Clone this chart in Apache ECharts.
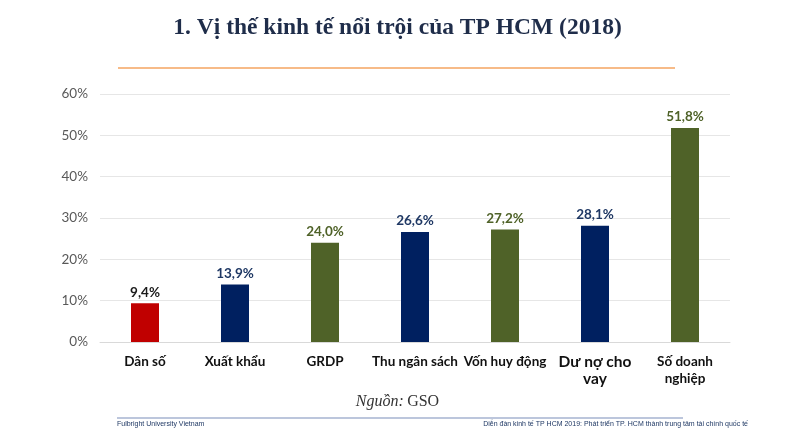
<!DOCTYPE html>
<html><head><meta charset="utf-8">
<script src="https://cdn.jsdelivr.net/npm/echarts@6/dist/echarts.min.js"></script>
<style>html,body{margin:0;padding:0;background:#fff}#c{width:795px;height:435px}</style>
</head><body><div id="c"></div>
<script>
const categories = ['Dân số', 'Xuất khẩu', 'GRDP', 'Thu ngân sách', 'Vốn huy động', 'Dư nợ cho\nvay', 'Số doanh\nnghiệp'];
const values = [9.4, 13.9, 24.0, 26.6, 27.2, 28.1, 51.8];
const barColors = ['#c00000', '#002060', '#4f6228', '#002060', '#4f6228', '#002060', '#4f6228'];
const labelColors = ['#1a1a1a', '#1f3864', '#4f6228', '#1f3864', '#4f6228', '#1f3864', '#4f6228'];
const yTicks = [0, 10, 20, 30, 40, 50, 60];

const chart = echarts.init(document.getElementById('c'));
chart.setOption({
  animation: false,
  title: {
    text: '1. Vị thế kinh tế nổi trội của TP HCM (2018)',
    left: 'center', top: 11,
    textStyle: { fontFamily: 'Liberation Serif', fontWeight: 'bold', fontSize: 23.5, color: '#1f2d4a' }
  },
  grid: { left: 100, right: 65, top: 94, bottom: 93 },
  xAxis: {
    type: 'category', data: categories,
    axisLine: { lineStyle: { color: '#d9d9d9' } },
    axisTick: { show: false },
    axisLabel: {
      interval: 0, margin: 11,
      formatter: function (v, i) { return i === 5 ? '{b|' + v.replace('\n', '}\n{b|') + '}' : '{a|' + v.replace('\n', '}\n{a|') + '}'; },
      rich: {
        a: { fontFamily: 'Lato', fontSize: 13.5, fontWeight: 'bold', color: '#111', lineHeight: 17 },
        b: { fontFamily: 'Lato', fontSize: 15.5, fontWeight: 'bold', color: '#111', lineHeight: 17 }
      }
    }
  },
  yAxis: {
    type: 'value', min: 0, max: 60, interval: 10,
    axisLine: { show: false }, axisTick: { show: false },
    splitLine: { lineStyle: { color: '#e6e6e6' } },
    axisLabel: { formatter: v => yTicks.includes(v) ? v + '%' : '', fontFamily: 'Lato', fontSize: 13.5, color: '#595959', margin: 12 }
  },
  series: [{
    type: 'bar', barWidth: 28,
    data: values.map((v, i) => ({
      value: v,
      itemStyle: { color: barColors[i] },
      label: { color: labelColors[i] }
    })),
    label: {
      show: true, position: 'top', distance: 4,
      fontFamily: 'Lato', fontWeight: 'bold', fontSize: 13.5,
      formatter: p => p.value.toFixed(1).replace('.', ',') + '%'
    }
  }],
  graphic: [
    { type: 'line', shape: { x1: 118, y1: 68, x2: 675, y2: 68 }, style: { stroke: '#f4a460', lineWidth: 1.3 } },
    { type: 'line', shape: { x1: 117, y1: 418, x2: 683, y2: 418 }, style: { stroke: '#a6b3d1', lineWidth: 1.5 } },
    { type: 'text', left: 'center', top: 394, style: { text: '{i|Nguồn:} {n|GSO}', rich: {
      i: { fontFamily: 'Liberation Serif', fontStyle: 'italic', fontSize: 16, fill: '#333' },
      n: { fontFamily: 'Liberation Serif', fontSize: 16, fill: '#333' } } } },
    { type: 'text', left: 117, top: 421, style: { text: 'Fulbright University Vietnam', fontFamily: 'Liberation Sans', fontSize: 7, fill: '#1f3864' } },
    { type: 'text', right: 47, top: 421, style: { text: 'Diễn đàn kinh tế TP HCM 2019: Phát triển TP. HCM thành trung tâm tài chính quốc tế', fontFamily: 'Liberation Sans', fontSize: 7, fill: '#1f3864' } }
  ]
});
</script></body></html>
